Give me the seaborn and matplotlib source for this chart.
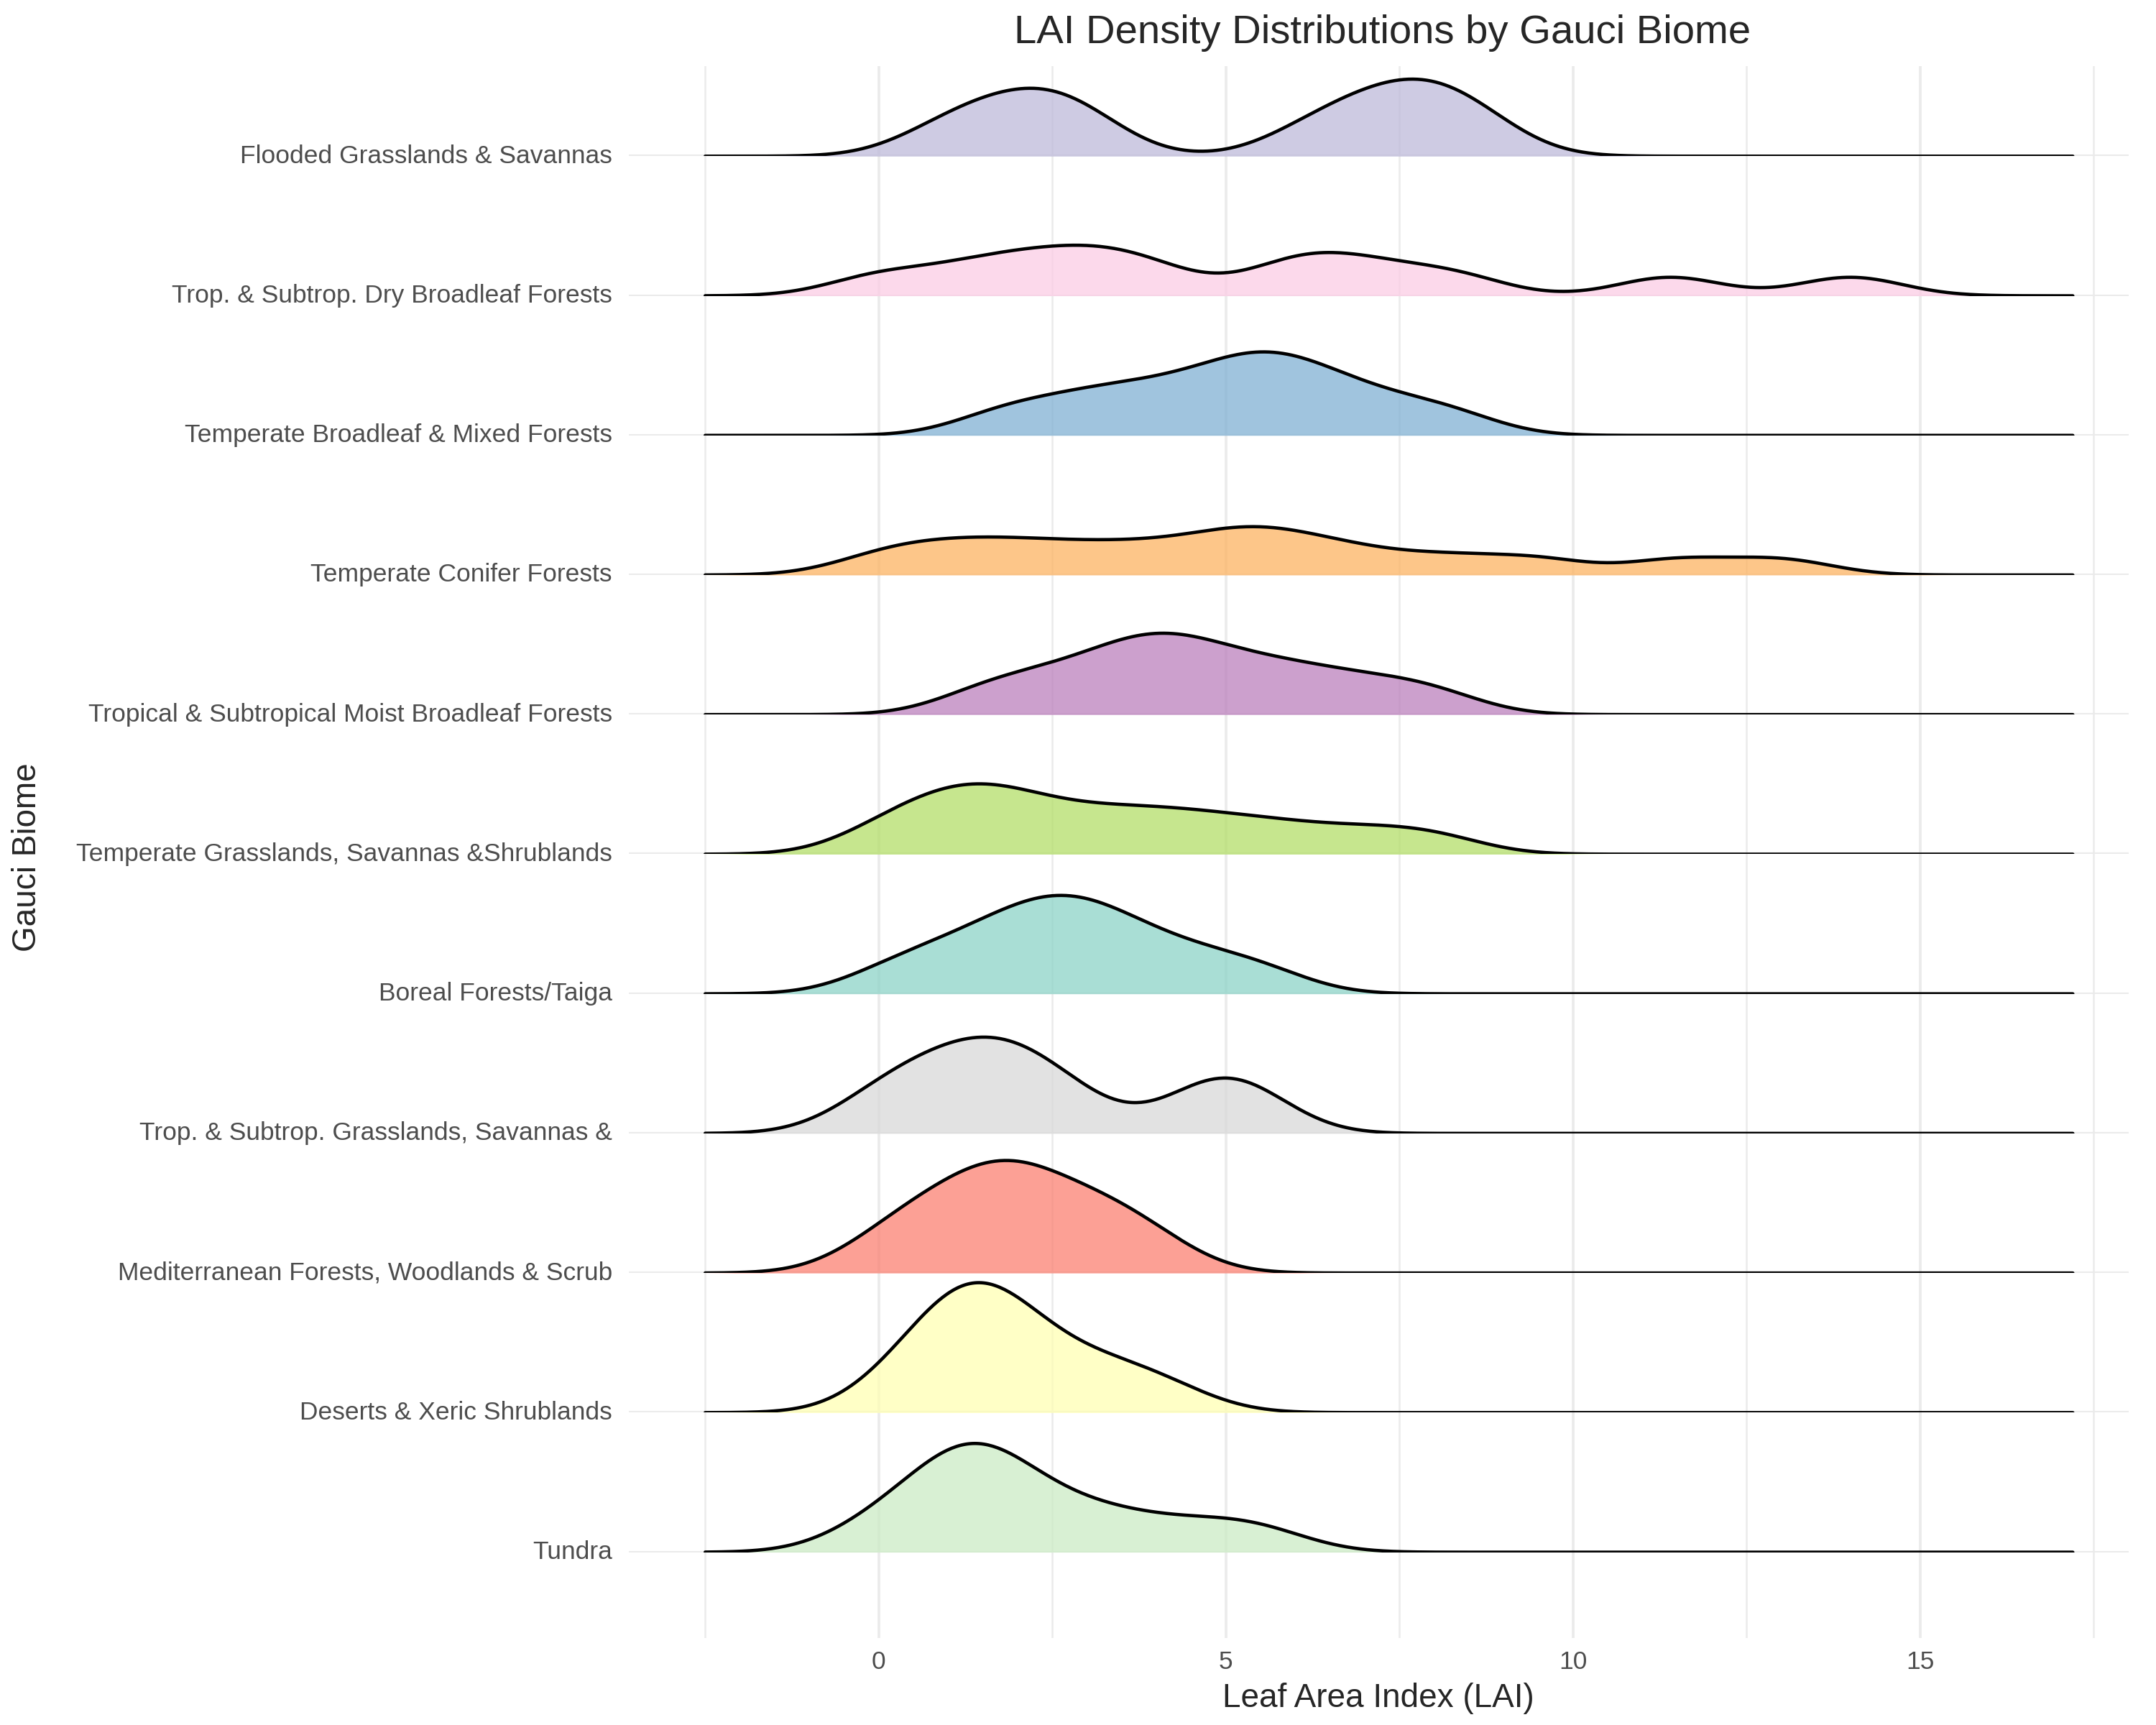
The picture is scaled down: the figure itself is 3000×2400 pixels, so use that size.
import numpy as np
import matplotlib
matplotlib.use("Agg")
import matplotlib.pyplot as plt
import seaborn as sns

biomes = [
    "Tundra",
    "Deserts & Xeric Shrublands",
    "Mediterranean Forests, Woodlands & Scrub",
    "Trop. & Subtrop. Grasslands, Savannas &",
    "Boreal Forests/Taiga",
    "Temperate Grasslands, Savannas &Shrublands",
    "Tropical & Subtropical Moist Broadleaf Forests",
    "Temperate Conifer Forests",
    "Temperate Broadleaf & Mixed Forests",
    "Trop. & Subtrop. Dry Broadleaf Forests",
    "Flooded Grasslands & Savannas",
]
tundra = [-0.2, 0.3, 0.7, 1.0, 1.2, 1.3, 1.4, 1.6, 1.8, 2.1, 2.5, 3.0, 3.5, 4.2, 5.0, 5.6]
deserts = [0.2, 0.6, 0.9, 1.1, 1.3, 1.4, 1.5, 1.7, 1.9, 2.2, 2.6, 3.1, 3.6, 4.2]
mediterranean = [0.0, 0.5, 0.9, 1.3, 1.6, 1.8, 2.0, 2.3, 2.7, 3.1, 3.5, 4.0]
trop_grass = [-0.1, 0.4, 0.9, 1.3, 1.6, 1.9, 2.3, 2.8, 4.6, 5.0, 5.4]
boreal = [0.2, 1.0, 1.6, 2.0, 2.4, 2.7, 3.0, 3.4, 3.9, 4.6, 5.5]
temp_grass = [0.0, 0.6, 1.0, 1.4, 1.7, 2.1, 2.7, 3.3, 3.9, 4.5, 5.2, 6.0, 7.0, 8.0]
trop_moist = [1.5, 2.3, 3.0, 3.5, 3.9, 4.2, 4.6, 5.1, 5.7, 6.3, 7.1, 8.0]
conifer = [0.0, 0.8, 1.5, 2.2, 3.0, 3.8, 4.6, 5.2, 5.6, 6.2, 7.0, 8.2, 9.5, 11.5, 13.0]
broadleaf = [1.8, 2.8, 3.5, 4.2, 4.8, 5.3, 5.6, 6.0, 6.5, 7.2, 8.2]
dry_broadleaf = [0.0, 1.2, 2.0, 2.7, 3.3, 4.0, 5.8, 6.4, 7.2, 8.3, 11.4, 14.0]
flooded = [0.9, 1.6, 2.1, 2.6, 3.0, 6.2, 6.9, 7.4, 7.8, 8.2, 8.7]
samples = [tundra, deserts, mediterranean, trop_grass, boreal, temp_grass,
           trop_moist, conifer, broadleaf, dry_broadleaf, flooded]
colors = ["#CCEBC5", "#FFFFB3", "#FB8072", "#D9D9D9", "#8DD3C7", "#B3DE69",
          "#BC80BD", "#FDB462", "#80B1D3", "#FCCDE5", "#BEBADA"]

BW = 0.75          # joint bandwidth (LAI units)
XLIM = (-3.6, 18.0)
CLIP = (-2.5, 17.2)
YMAX = 0.83

sns.set_theme(style="white")
plt.rcParams["font.family"] = ["Liberation Sans", "DejaVu Sans"]

W, H = 1560, 1248  # reference pixel frame
fig = plt.figure(figsize=(10, 8), dpi=300)
left, right = 455 / W, 1540 / W
top_px, bot_px = 48, 1185

# background axis for the vertical grid and x ticks
bg = fig.add_axes([left, 1 - bot_px / H, right - left, (bot_px - top_px) / H])
bg.set_xlim(*XLIM)
bg.set_ylim(0, 1)
for s in bg.spines.values():
    s.set_visible(False)
for x in np.arange(-2.5, 18, 2.5):
    bg.axvline(x, color="#ebebeb", lw=0.9 if x % 5 == 0 else 0.6, zorder=0)
bg.set_xticks([0, 5, 10, 15])
bg.set_yticks([])
bg.tick_params(axis="x", length=0, labelsize=8.5, labelcolor="#4d4d4d", pad=4)
bg.set_xlabel("Leaf Area Index (LAI)", fontsize=11, labelpad=3)

spacing = 101
ax_h = 250
for i in reversed(range(len(biomes))):
    base_px = 1123 - spacing * i
    ax = fig.add_axes([left, 1 - base_px / H, right - left, ax_h / H])
    ax.set_xlim(*XLIM)
    ax.set_ylim(0, YMAX)
    ax.patch.set_alpha(0)
    ax.axhline(0, color="#ebebeb", lw=1.0, zorder=0)
    data = np.array(samples[i])
    bw = BW / data.std(ddof=1)
    kw = dict(ax=ax, bw_method=bw, clip=CLIP, cut=20, gridsize=600)
    sns.kdeplot(x=data, fill=True, color=colors[i], alpha=0.75, linewidth=0, **kw)
    sns.kdeplot(x=data, color="black", linewidth=1.1, **kw)
    ax.set_axis_off()
    fig.text(443 / W, 1 - base_px / H, biomes[i], ha="right", va="center",
             fontsize=8.5, color="#4d4d4d")

fig.text(20 / W, 1 - 620 / H, "Gauci Biome", rotation=90, ha="center",
         va="center", fontsize=11)
fig.text(1000 / W, 1 - 24 / H, "LAI Density Distributions by Gauci Biome",
         ha="center", va="center", fontsize=13.5)

fig.savefig("out.png", dpi=300)
